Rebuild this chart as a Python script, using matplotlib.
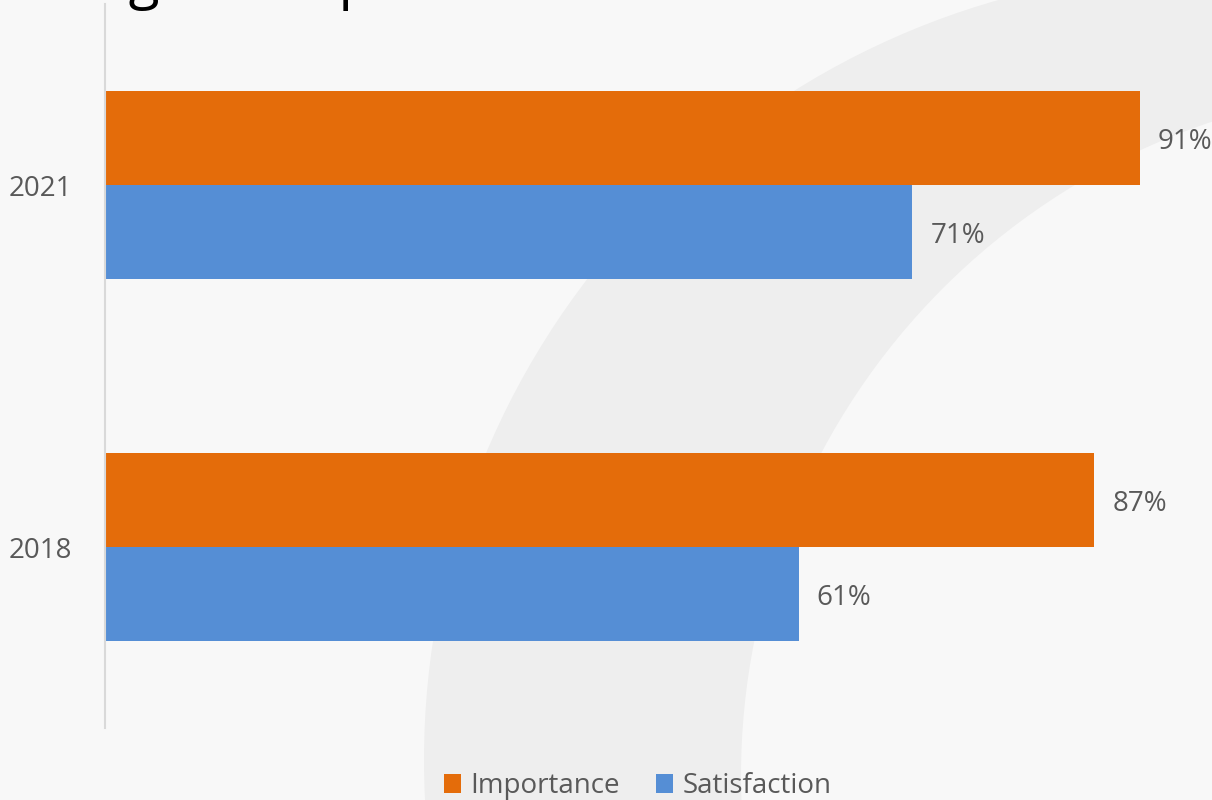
import matplotlib.pyplot as plt
import numpy as np
from matplotlib.patches import Circle, Patch
from matplotlib.transforms import IdentityTransform

# data
years = ['2018', '2021']
importance = [87, 91]
satisfaction = [61, 71]

orange = '#E46C0A'
blue = '#558ED5'
grey_txt = '#595959'
bg = '#F8F8F8'
band = '#EEEEEE'

plt.rcParams['font.family'] = ['Open Sans', 'DejaVu Sans']

W, H = 1212, 800
fig = plt.figure(figsize=(W / 100, H / 100), dpi=100)
fig.patch.set_facecolor(bg)

# faint watermark arc behind the chart (pixel coords)
outer = Circle((1214, H - 760), 790, transform=IdentityTransform(), facecolor=band,
               edgecolor='none', zorder=-2)
inner = Circle((1431, H - 776), 690, transform=IdentityTransform(), facecolor=bg,
               edgecolor='none', zorder=-1)
fig.patches.extend([outer, inner])

ax = fig.add_axes([105 / W, 72 / H, 1137 / W, 724 / H])
ax.set_facecolor('none')
ax.set_zorder(1)

y = np.arange(len(years))
h = 0.261
b1 = ax.barh(y + h / 2, importance, height=h, color=orange, label='Importance')
b2 = ax.barh(y - h / 2, satisfaction, height=h, color=blue, label='Satisfaction')

# value labels just right of each bar
for bars, vals in [(b1, importance), (b2, satisfaction)]:
    for rect, v in zip(bars, vals):
        ax.annotate(f'{v}%', (rect.get_width(), rect.get_y() + rect.get_height() / 2),
                    xytext=(13, -3), textcoords='offset points', ha='left', va='center',
                    fontsize=20, color=grey_txt, annotation_clip=False)

ax.set_xlim(0, 100)
ax.set_ylim(-0.5, 1.5)
ax.set_yticks(y)
ax.set_yticklabels(years, fontsize=20, color=grey_txt)
ax.tick_params(axis='y', length=0, pad=24)
ax.set_xticks([])
for s in ['top', 'right', 'bottom']:
    ax.spines[s].set_visible(False)
ax.spines['left'].set_color('#D9D9D9')
ax.spines['left'].set_linewidth(1.5)

# cropped title at the top of the slide
fig.text(-8 / W, 1 + 3 / H, 'Ratings of Importance', fontsize=41, color='black',
         ha='left', va='baseline')

handles = [Patch(facecolor=orange, label='Importance'),
           Patch(facecolor=blue, label='Satisfaction')]
leg = fig.legend(handles=handles, loc='center', bbox_to_anchor=(638 / W, 1 - 786 / H),
                 ncol=2, frameon=False, fontsize=20, handlelength=0.6,
                 handleheight=0.7, handletextpad=0.36, columnspacing=1.3,
                 labelcolor=grey_txt)

fig.savefig('out.png', dpi=100, facecolor=bg)
